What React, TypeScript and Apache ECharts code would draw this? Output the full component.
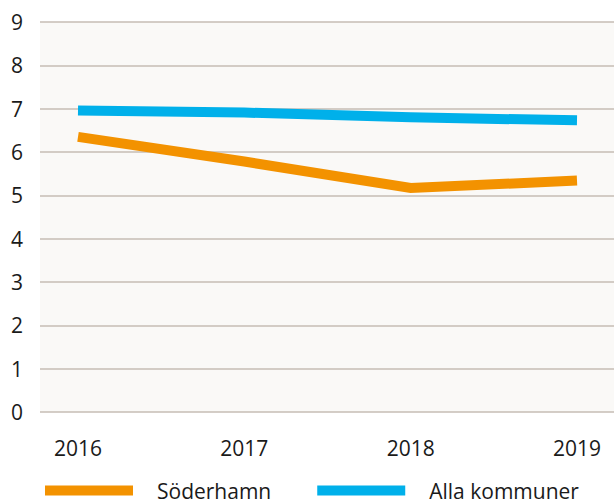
import React, { useEffect, useRef } from "react";
import * as echarts from "echarts";

const years = ["2016", "2017", "2018", "2019"];
const soderhamn = [6.35, 5.78, 5.17, 5.34];
const allaKommuner = [6.96, 6.91, 6.8, 6.73];
const seriesNames = ["Söderhamn", "Alla kommuner"];
const yMin = 0;
const yMax = 9;

const FONT = "'Open Sans', 'Noto Sans', sans-serif";

export default function App() {
  const ref = useRef<HTMLDivElement>(null);
  useEffect(() => {
    if (!ref.current) return;
    const chart = echarts.init(ref.current, null, { renderer: "svg" });
    const top = 22;
    const bottom = 87;
    chart.setOption({
      animation: false,
      grid: [
        {
          left: 40, right: 0, top, bottom,
          show: true, backgroundColor: "#faf9f7", borderWidth: 0,
        },
        { left: 78, right: 37, top, bottom },
      ],
      legend: {
        data: seriesNames,
        left: 40,
        top: 475,
        icon: "rect",
        itemWidth: 88,
        itemHeight: 10,
        itemGap: 46,
        textStyle: {
          fontFamily: FONT, fontSize: 21, color: "#1a1a1a",
          padding: [0, 0, 0, 19],
        },
      },
      xAxis: [
        {
          gridIndex: 0, type: "value", min: 0, max: 1, show: false,
        },
        {
          gridIndex: 1, type: "category", data: years, boundaryGap: false,
          axisLine: { show: false }, axisTick: { show: false },
          axisLabel: {
            fontFamily: FONT, fontSize: 21, color: "#1a1a1a", margin: 25,
          },
          splitLine: { show: false },
        },
      ],
      yAxis: [
        {
          gridIndex: 0, type: "value", min: yMin, max: yMax, interval: 1,
          axisLine: { show: false }, axisTick: { show: false },
          axisLabel: {
            fontFamily: FONT, fontSize: 21, color: "#1a1a1a", margin: 17,
          },
          splitLine: { show: true, lineStyle: { color: "#c6bcb4", width: 1.5 } },
        },
        {
          gridIndex: 1, type: "value", min: yMin, max: yMax, interval: 1, show: false,
          splitLine: { show: false },
        },
      ],
      series: [
        {
          name: seriesNames[0], type: "line", xAxisIndex: 1, yAxisIndex: 1,
          data: soderhamn, showSymbol: false, symbol: "none",
          lineStyle: { color: "#f39200", width: 10, cap: "butt", join: "miter" },
          itemStyle: { color: "#f39200" },
        },
        {
          name: seriesNames[1], type: "line", xAxisIndex: 1, yAxisIndex: 1,
          data: allaKommuner, showSymbol: false, symbol: "none",
          lineStyle: { color: "#00b0ea", width: 10, cap: "butt", join: "miter" },
          itemStyle: { color: "#00b0ea" },
        },
      ],
    });
    return () => chart.dispose();
  }, []);
  return <div ref={ref} style={{ width: 614, height: 499, position: "absolute", left: 0, top: 0 }} />;
}
